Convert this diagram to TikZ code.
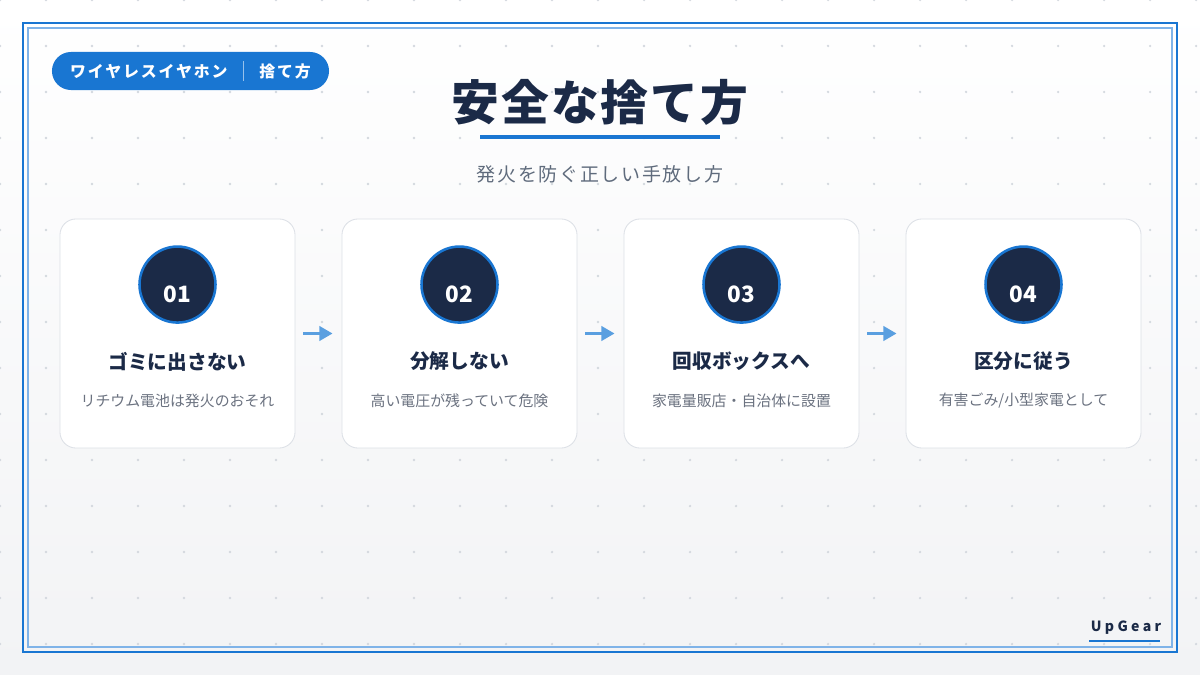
\documentclass[tikz,border=0pt]{standalone}
\usepackage{fontspec}
\setmainfont{Noto Sans CJK JP}
\newfontfamily\logofont{Noto Sans CJK JP}[LetterSpace=24]
\usetikzlibrary{positioning,arrows.meta}
\definecolor{brandblue}{HTML}{1976D2}
\definecolor{framelight}{HTML}{7FB3E8}
\definecolor{navy}{HTML}{1B2A47}
\definecolor{subgrey}{HTML}{5F6B7C}
\definecolor{notegrey}{HTML}{6B7280}
\definecolor{cardline}{HTML}{DCE0E6}
\definecolor{flowblue}{HTML}{5A9FE0}
\definecolor{dotgrey}{HTML}{D3D8DE}
\definecolor{bgbottom}{HTML}{F2F3F5}
\tikzset{
  card/.style={draw=cardline, fill=white, line width=0.6pt, rounded corners=0.4cm,
    minimum width=5.875cm, minimum height=5.725cm},
  numdot/.style={circle, fill=navy, draw=brandblue, line width=1.8pt, minimum size=1.9cm},
  numtext/.style={text=white, font=\fontsize{16}{18}\selectfont\bfseries},
  steptitle/.style={text=navy, font=\fontsize{14}{16}\selectfont\bfseries},
  stepnote/.style={text=notegrey, font=\fontsize{10.6}{12}\selectfont},
  flow/.style={-{Triangle[length=0.33cm,width=0.36cm]}, line width=2.1pt, draw=flowblue,
    shorten <=0.2cm, shorten >=0.225cm},
}
\begin{document}
\begin{tikzpicture}[x=0.025cm,y=-0.025cm,node distance=1.175cm]
\useasboundingbox (0,0) rectangle (1200,675);
% background
\shade[top color=white,bottom color=bgbottom] (0,0) rectangle (1200,675);
\foreach \gx in {0,46,...,1196}
  \foreach \gy in {0,46,...,644}
    \fill[dotgrey] (\gx,\gy) circle (0.9pt);
\draw[brandblue,line width=1.5pt] (23,23) rectangle (1177,652);
\draw[framelight,line width=0.8pt] (28,28) rectangle (1172,647);

% header
\node[fill=brandblue, rounded corners=0.475cm, minimum width=6.925cm, minimum height=0.95cm,
  text=white, font=\fontsize{11.3}{13}\selectfont\bfseries\addfontfeatures{LetterSpace=12}]
  (badge) at (190.5,71)
  {ワイヤレスイヤホン\hspace{11pt}\textcolor{white!55!brandblue}{\rule[-0.2em]{0.6pt}{1.2em}}\hspace{11pt}捨て方};
\node[text=navy, font=\fontsize{34}{40}\selectfont\bfseries\addfontfeatures{LetterSpace=4}]
  (title) at (600,102) {安全な捨て方};
\draw[brandblue,line width=2.2pt] (480,137) -- (720,137);
\node[text=subgrey, font=\fontsize{13.5}{16}\selectfont\addfontfeatures{LetterSpace=9}]
  (subtitle) at (600,174) {発火を防ぐ正しい手放し方};

% steps
\foreach \num/\ttl/\note [count=\k] in {
  01/ゴミに出さない/リチウム電池は発火のおそれ,
  02/分解しない/高い電圧が残っていて危険,
  03/回収ボックスへ/家電量販店・自治体に設置,
  04/区分に従う/{有害ごみ/小型家電として}}{
  \node[card] (c\k) at ({177.5+282*(\k-1)},333.5) {};
  \node[numdot] (d\k) at ([yshift=-1.65cm]c\k.north) {};
  \node[numtext] (n\k) at ([yshift=-0.24cm]d\k.center) {\num};
  \node[steptitle] (t\k) at ([yshift=-3.575cm]c\k.north) {\ttl};
  \node[stepnote] (s\k) at ([yshift=-4.55cm]c\k.north) {\note};
}
\foreach \a/\b in {1/2,2/3,3/4}
  \draw[flow] (c\a) -- (c\b);

% logo
\node[text=navy, font=\logofont\fontsize{10}{12}\selectfont\bfseries] (logo) at (1126,628) {UpGear};
\draw[brandblue,line width=1.4pt] (1089,641) -- (1160,641);
\end{tikzpicture}
\end{document}
